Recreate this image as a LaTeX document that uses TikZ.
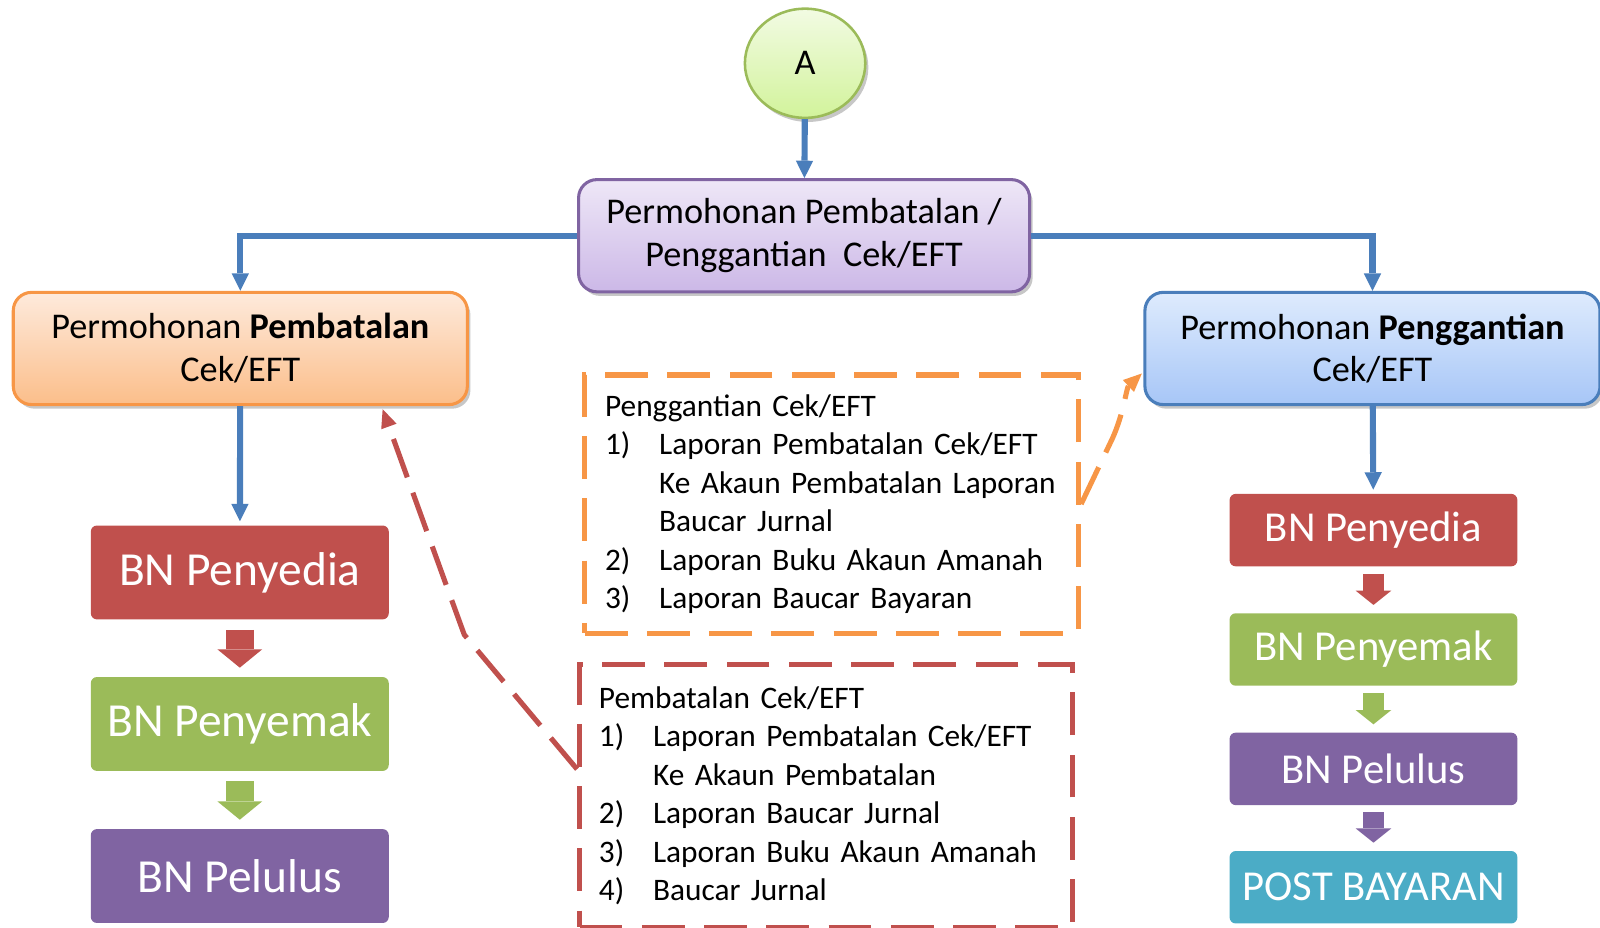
\documentclass[tikz,border=0pt]{standalone}
\usepackage{fontspec}
\setmainfont{Carlito}
\usetikzlibrary{arrows.meta,shapes.geometric,shadows,calc}

\definecolor{merah}{HTML}{C0504D}
\definecolor{hijau}{HTML}{9BBB59}
\definecolor{ungu}{HTML}{8064A2}
\definecolor{biru}{HTML}{4BACC6}
\definecolor{garisbiru}{HTML}{4A7EBB}
\definecolor{oren}{HTML}{F79646}
\definecolor{hijauatas}{HTML}{F2FBE3}
\definecolor{hijaubawah}{HTML}{D2F39B}
\definecolor{unguatas}{HTML}{EEE7F7}
\definecolor{ungubawah}{HTML}{CCB8E7}
\definecolor{orenatas}{HTML}{FEEADC}
\definecolor{orenbawah}{HTML}{FBBE8A}
\definecolor{biruatas}{HTML}{DEEBFD}
\definecolor{birubawah}{HTML}{A7C6F7}
\newcommand{\nomor}[1]{\makebox[53pt][l]{#1}}

\begin{document}
\begin{tikzpicture}[x=1pt, y=-1pt,
    every node/.style={font=\fontsize{35.5}{42}\selectfont, align=center, inner sep=0pt},
    bayang/.style={drop shadow={shadow xshift=3pt, shadow yshift=-4pt, opacity=0.22, fill=black}},
    kotak/.style={rounded corners=18pt, line width=3pt, minimum width=#1, minimum height=110pt, bayang},
    bn/.style={fill=#1, rounded corners=6pt, text=white},
    panah/.style={draw=garisbiru, line width=6pt, -{Triangle[length=17pt, width=17pt, line width=0pt]}},
    blok/.style={draw=#1, line width=27pt, -{Triangle[length=18pt, width=44pt, line width=0pt]}, shorten <=10pt, shorten >=9pt},
    blokkecil/.style={draw=#1, line width=20.5pt, -{Triangle[length=14pt, width=35pt, line width=0pt]}, shorten <=7pt, shorten >=8pt},
    putus/.style={draw=#1, line width=5pt, dash pattern=on 42pt off 19pt},
    teks/.style={font=\fontsize{30.7}{37.7}\selectfont, align=left, inner xsep=20pt, minimum height=#1}
]
    \useasboundingbox (0,0) rectangle (1568,908.5);

    % Start point and main request
    \node[ellipse, draw=hijau, line width=2.5pt, top color=hijauatas, bottom color=hijaubawah,
        minimum width=118pt, minimum height=107pt, bayang] (mula) at (789,62) {A};
    \node[kotak=442pt, draw=ungu, top color=unguatas, bottom color=ungubawah] (induk) at (788,231)
        {Permohonan Pembatalan /\\Penggantian\ \ Cek/EFT};

    % The two kinds of request
    \node[kotak=445pt, draw=oren, top color=orenatas, bottom color=orenbawah] (batal) at (235.5,341.5)
        {Permohonan \textbf{Pembatalan}\\Cek/EFT};
    \node[kotak=446pt, draw=garisbiru, top color=biruatas, bottom color=birubawah] (ganti) at (1345,341.5)
        {Permohonan \textbf{Penggantian}\\Cek/EFT};

    \draw[panah] (mula) -- (induk);
    \draw[panah] (induk.west) -| (batal.north);
    \draw[panah] (induk.east) -| (ganti.north);

    % Left column
    \foreach \n/\y/\w/\t in {kiri1/561/merah/BN Penyedia, kiri2/709.5/hijau/BN Penyemak, kiri3/858.5/ungu/BN Pelulus}
        \node[bn=\w, minimum width=292pt, minimum height=92pt, font=\fontsize{46.5}{50}\selectfont] (\n) at (235,\y) {\t};
    \draw[panah, shorten >=4pt] (batal) -- (kiri1);
    \foreach \a/\b/\w in {kiri1/kiri2/merah, kiri2/kiri3/hijau}
        \draw[blok=\w] (\a) -- (\b);

    % Right column
    \foreach \n/\y/\w/\t in {kanan1/519.5/merah/BN Penyedia, kanan2/636.5/hijau/BN Penyemak, kanan3/753.5/ungu/BN Pelulus, kanan4/869.5/biru/POST BAYARAN}
        \node[bn=\w, minimum width=282pt, minimum height=71pt, font=\fontsize{41.8}{46}\selectfont] (\n) at (1346,\y) {\t};
    \draw[panah, shorten >=4pt] (ganti) -- (kanan1);
    \foreach \a/\b/\w in {kanan1/kanan2/merah, kanan2/kanan3/hijau, kanan3/kanan4/ungu}
        \draw[blokkecil=\w] (\a) -- (\b);

    % Report lists
    \node[putus=oren, teks=253pt, text width=444pt] (dganti) at (815,494)
        {Penggantian Cek/EFT\\
         \nomor{1)}Laporan Pembatalan Cek/EFT\\
         \hspace*{53pt}Ke Akaun Pembatalan Laporan\\
         \hspace*{53pt}Baucar Jurnal\\
         \nomor{2)}Laporan Buku Akaun Amanah\\
         \nomor{3)}Laporan Baucar Bayaran};
    \node[putus=merah, teks=257pt, inner xsep=19pt, text width=445pt] (dbatal) at (809.5,780)
        {Pembatalan Cek/EFT\\
         \nomor{1)}Laporan Pembatalan Cek/EFT\\
         \hspace*{53pt}Ke Akaun Pembatalan\\
         \nomor{2)}Laporan Baucar Jurnal\\
         \nomor{3)}Laporan Buku Akaun Amanah\\
         \nomor{4)}Baucar Jurnal};

    % Dashed links back to the requests
    \coordinate (ujungoren) at (1119,366);
    \coordinate (ujungmerah) at (375,401);
    \draw[putus=oren, dash pattern=on 40pt off 16pt, -{Triangle[length=18pt, width=16pt, line width=0pt]}]
        (dganti.east) -- (1090,430) .. controls (1101,406) and (1104,380) .. (ujungoren);
    \draw[putus=merah, dash pattern=on 40pt off 16pt, -{Triangle[length=18pt, width=16pt, line width=0pt]}]
        ($(dbatal.north west)!0.4!(dbatal.south west)$) -- (455,622) .. controls (428,548) and (400,470) .. (ujungmerah);
\end{tikzpicture}
\end{document}
